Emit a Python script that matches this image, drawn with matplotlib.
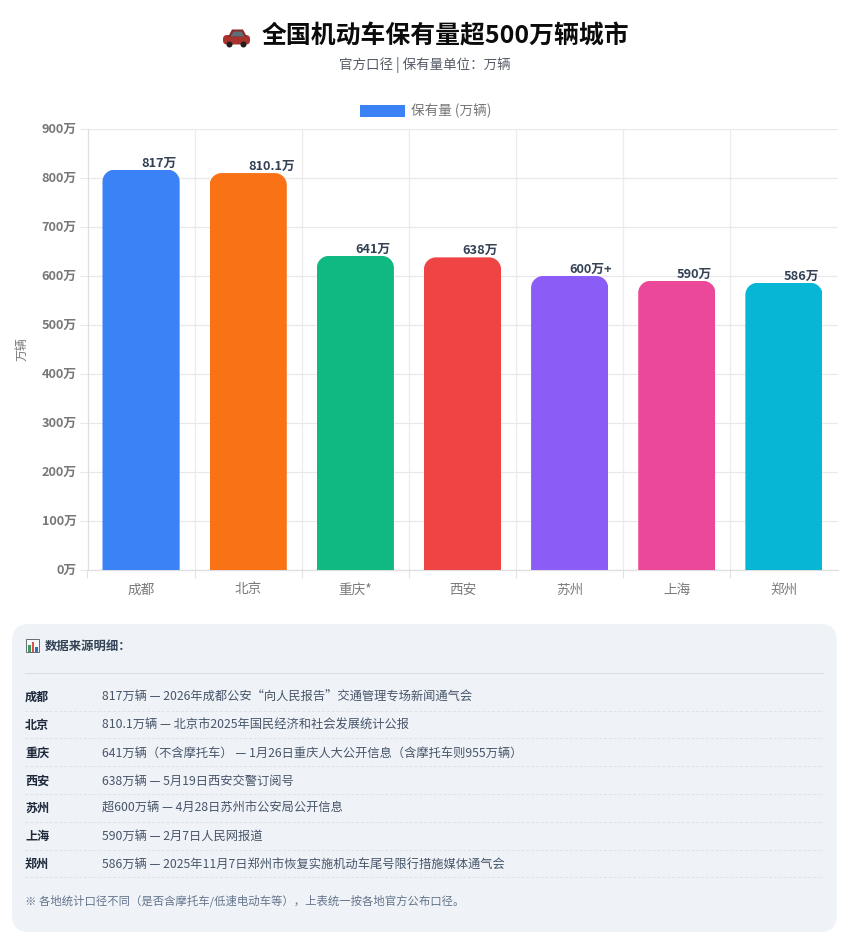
import matplotlib
matplotlib.use('Agg')
import matplotlib.pyplot as plt
from matplotlib.patches import FancyBboxPatch, Rectangle, Patch, Circle, Polygon
from matplotlib.path import Path

plt.rcParams['font.family'] = ['Noto Sans CJK SC', 'DejaVu Sans']

W, H = 844, 943

cities = ['成都', '北京', '重庆*', '西安', '苏州', '上海', '郑州']
values = [817, 810.1, 641, 638, 600, 590, 586]
value_labels = ['817万', '810.1万', '641万', '638万', '600万+', '590万', '586万']
colors = ['#3b82f6', '#f97316', '#10b981', '#ef4444', '#8b5cf6', '#ec4899', '#06b6d4']
yticks = [0, 100, 200, 300, 400, 500, 600, 700, 800, 900]

row_names = ['成都', '北京', '重庆', '西安', '苏州', '上海', '郑州']
row_texts = [
    '817万辆 — 2026年成都公安“向人民报告”交通管理专场新闻通气会',
    '810.1万辆 — 北京市2025年国民经济和社会发展统计公报',
    '641万辆（不含摩托车） — 1月26日重庆人大公开信息（含摩托车则955万辆）',
    '638万辆 — 5月19日西安交警订阅号',
    '超600万辆 — 4月28日苏州市公安局公开信息',
    '590万辆 — 2月7日人民网报道',
    '586万辆 — 2025年11月7日郑州市恢复实施机动车尾号限行措施媒体通气会',
]
note = '※ 各地统计口径不同（是否含摩托车/低速电动车等），上表统一按各地官方公布口径。'


def rounded_top(x0, x1, top, rx, ry):
    # bar outline with rounded top corners, used to clip the bars
    k = 0.45
    verts = [(x0, 0), (x0, top - ry),
             (x0, top - ry * k), (x0 + rx * k, top), (x0 + rx, top),
             (x1 - rx, top),
             (x1 - rx * k, top), (x1, top - ry * k), (x1, top - ry),
             (x1, 0), (x0, 0)]
    codes = [Path.MOVETO, Path.LINETO,
             Path.CURVE4, Path.CURVE4, Path.CURVE4,
             Path.LINETO,
             Path.CURVE4, Path.CURVE4, Path.CURVE4,
             Path.LINETO, Path.CLOSEPOLY]
    return Path(verts, codes)


fig = plt.figure(figsize=(W / 100, H / 100), dpi=100)

# page layer, in pixel coordinates
bg = fig.add_axes([0, 0, 1, 1])
bg.set_xlim(0, W)
bg.set_ylim(H, 0)
bg.axis('off')

bg.text(445, 36.5, '全国机动车保有量超500万辆城市', fontsize=17.9, fontweight='bold',
        color='#0b0b0b', ha='center', va='center')
bg.text(425, 65, '官方口径 | 保有量单位：万辆', fontsize=9.7, color='#555b66',
        ha='center', va='center')

# car emoji drawn by hand
bg.add_patch(FancyBboxPatch((223, 35), 27, 9.5, boxstyle='round,pad=0,rounding_size=4',
                            fc='#a8332c', ec='none'))
bg.add_patch(Polygon([(228, 37), (232, 29.5), (243, 29.5), (247, 37)], fc='#8a2b27', ec='none'))
bg.add_patch(Polygon([(230.5, 36.5), (233.5, 31.5), (241.5, 31.5), (244.5, 36.5)],
                     fc='#5d6f78', ec='none'))
bg.add_patch(Circle((229.5, 44.5), 3, fc='#1f1f1f', ec='none'))
bg.add_patch(Circle((243.5, 44.5), 3, fc='#1f1f1f', ec='none'))

# details panel
bg.add_patch(FancyBboxPatch((12, 624), 825, 308, boxstyle='round,pad=0,rounding_size=17',
                            fc='#eff3f8', ec='none'))
bg.add_patch(Rectangle((26, 639), 13, 13, fc='#f7f8fa', ec='#5f6b75', lw=0.7))
bg.add_patch(Rectangle((28, 645), 2.5, 7, fc='#3f9b5f', ec='none'))
bg.add_patch(Rectangle((31.5, 642), 2.5, 10, fc='#d9534f', ec='none'))
bg.add_patch(Rectangle((35, 647), 2.5, 5, fc='#3b6fb5', ec='none'))
bg.text(45, 646, '数据来源明细：', fontsize=8.9, fontweight='bold', color='#334155',
        ha='left', va='center')
bg.plot([25, 823], [672.5, 672.5], color='#d9dee5', lw=0.75)

row_y = [697, 725, 753, 781, 808, 836, 864]
line_y = [711, 738, 766, 794, 822, 850, 877]
for name, text, y, ly in zip(row_names, row_texts, row_y, line_y):
    bg.text(25, y, name, fontsize=8.7, fontweight='bold', color='#1e293b', ha='left', va='center')
    bg.text(102, y, text, fontsize=8.8, color='#475569', ha='left', va='center')
    bg.plot([25, 823], [ly, ly], color='#dde3ea', lw=0.7, ls=(0, (3, 2)))
bg.text(25, 900.5, note, fontsize=8.2, color='#64748b', ha='left', va='center')

# chart
left, right, top, bottom = 87.5, 837.5, 129, 570
ax = fig.add_axes([left / W, 1 - bottom / H, (right - left) / W, (bottom - top) / H])
ax.patch.set_alpha(0)
ax.set_xlim(-0.5, len(cities) - 0.5)
ax.set_ylim(0, 900)

bar_w = 0.72
x_pos = range(len(cities))
bars = ax.bar(x_pos, values, width=bar_w, color=colors, zorder=3)

# corner radius ~12px, converted to data units
rx = 12 / ((right - left) / len(cities))
ry = 12 / ((bottom - top) / 900)
for rect in bars:
    x0 = rect.get_x()
    rect.set_clip_path(rounded_top(x0, x0 + bar_w, rect.get_height(), rx, ry), ax.transData)

for i, (v, lab) in enumerate(zip(values, value_labels)):
    ax.annotate(lab, (i, v), xytext=(0, 0), textcoords='offset points', ha='left', va='bottom',
                fontsize=9.2, fontweight='bold', color='#334155', zorder=4)

ax.set_xticks([i - 0.5 for i in range(len(cities))], minor=True)
ax.set_xticks(list(x_pos))
ax.set_xticklabels(cities, fontsize=9.8, color='#7b7b7b')
ax.set_yticks(yticks)
ax.set_yticklabels([f'{t}万' for t in yticks], fontsize=9.2, fontweight='bold', color='#777777',
                   va='center')
ax.tick_params(axis='x', which='major', length=0, pad=9)
ax.tick_params(axis='x', which='minor', length=6, width=0.8, color='#e2e2e2')
ax.tick_params(axis='y', length=6, width=0.8, color='#e8e8e8', pad=2)
ax.grid(True, axis='y', color='#e9e9ec', lw=0.9, zorder=0)
ax.grid(True, axis='x', which='minor', color='#ececef', lw=0.9, zorder=0)
ax.set_axisbelow(True)
for side in ['top', 'right']:
    ax.spines[side].set_visible(False)
for side in ['left', 'bottom']:
    ax.spines[side].set_color('#dfdfe2')
    ax.spines[side].set_linewidth(0.9)

ax.set_ylabel('万辆', fontsize=8.6, color='#777777')
ax.yaxis.set_label_coords((28 - left) / (right - left), (bottom - 349) / (bottom - top))

ax.legend(handles=[Patch(fc=colors[0], label='保有量 (万辆)')], loc='center',
          bbox_to_anchor=((425.5 - left) / (right - left), (bottom - 111) / (bottom - top)),
          frameon=False, fontsize=9.8, labelcolor='#777777', handlelength=3.3, handleheight=1,
          handletextpad=0.45, borderpad=0, borderaxespad=0)

fig.savefig('out.png', dpi=100)
